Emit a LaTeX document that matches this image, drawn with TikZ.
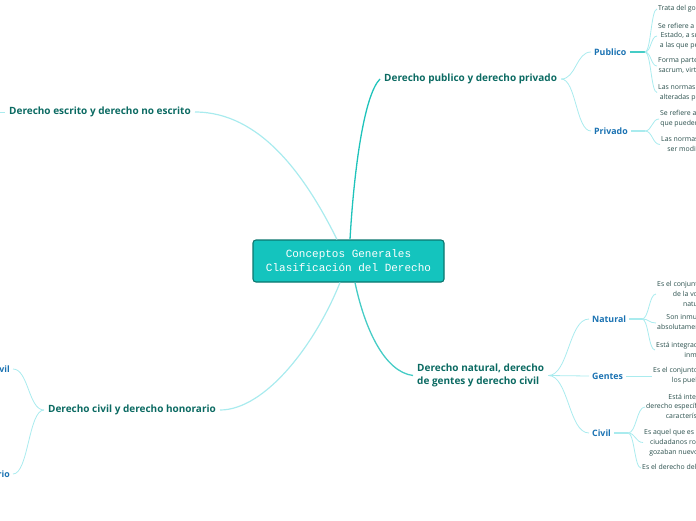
\documentclass[tikz,border=0pt]{standalone}
\usepackage{fontspec}
\setmainfont{Open Sans}
\setmonofont{Liberation Mono}
\usetikzlibrary{positioning,calc}
\definecolor{RootFill}{HTML}{14C4BE}
\definecolor{RootEdge}{HTML}{0C776F}
\definecolor{TopicText}{HTML}{0B6A62}
\definecolor{SubText}{HTML}{1A72B2}
\definecolor{LeafText}{HTML}{2B504D}
\definecolor{LinkDark}{HTML}{1FC3BB}
\definecolor{LinkMid}{HTML}{45CCC6}
\definecolor{LinkLight}{HTML}{A9EBEE}

\begin{document}
\begin{tikzpicture}[x=1pt,y=-1pt,
  root/.style={draw=RootEdge,fill=RootFill,rounded corners=3pt,line width=1.1pt,align=center,minimum width=191pt,minimum height=42pt,text=white,font=\ttfamily\fontsize{11}{14}\selectfont},
  topic/.style={text=TopicText,align=left,font=\bfseries\fontsize{10}{13}\selectfont,inner sep=4pt},
  sub/.style={text=SubText,font=\bfseries\fontsize{8.8}{10}\selectfont,inner sep=3pt},
  leaf/.style={text=LeafText,align=center,anchor=west,font=\fontsize{6.9}{9.8}\selectfont,inner sep=1pt},
  trunk/.style={line width=1.3pt,LinkDark},
  trunklight/.style={line width=1.2pt,LinkLight},
  twig/.style={line width=0.8pt,LinkLight},
  stub/.style={line width=2pt,LinkMid}]
  \useasboundingbox (0,0) rectangle (696,520);
  \clip (0,0) rectangle (696,520);

  % centre
  \node[root] (root) at (348.5,261) {Conceptos Generales\\Clasificación del Derecho};

  % main topics
  \node[topic,anchor=west] (pubpriv) at (380,79) {Derecho publico y derecho privado};
  \node[topic,anchor=east] (escrito) at (195,112) {Derecho escrito y derecho no escrito};
  \node[topic,anchor=east] (civhon) at (220,410) {Derecho civil y derecho honorario};
  \node[topic,anchor=west] (natural) at (413,375.5) {Derecho natural, derecho\\de gentes y derecho civil};

  \draw[trunk] ($(root.north)+(1.5,0)$) .. controls (354,170) and (364,95) .. (pubpriv.west);
  \draw[trunklight] ($(root.north)+(-11.5,0)$) .. controls (305,175) and (260,112) .. (escrito.east);
  \draw[trunklight] ($(root.south)+(-8.5,0)$) .. controls (315,345) and (265,410) .. (civhon.east);
  \draw[trunk,LinkMid] ($(root.south)+(6.5,0)$) .. controls (365,330) and (385,372) .. (natural.west);

  % escrito: branch leaving the page
  \coordinate (escout) at (-20,112);
  \draw[twig] (escrito.west) -- (escout);

  % publico / privado
  \node[sub,anchor=west] (pub) at (591,52) {Publico};
  \node[sub,anchor=west] (priv) at (591,131) {Privado};
  \coordinate (pubj) at (645,52);
  \coordinate (privj) at (645,131);
  \draw[stub] (pub.east) -- (pubj);
  \draw[stub,LinkLight] (priv.east) -- (privj);

  \node[leaf] (p1) at (657,9) {Trata del gobierno de la República};
  \node[leaf] (p2) at (657,36) {Se refiere a la organización del\\Estado, a sus magistraturas y\\a las que pertenece el pueblo};
  \node[leaf] (p3) at (657,66) {Forma parte de él el ius\\sacrum, virtud religiosa};
  \node[leaf] (p4) at (657,92.5) {Las normas no pueden ser\\alteradas por particulares};
  \node[leaf] (v1) at (659,119) {Se refiere a los particulares\\que pueden pactar entre sí};
  \node[leaf] (v2) at (660,144.5) {Las normas privadas pueden\\ser modificadas por ellos};

  % natural / gentes / civil
  \node[sub,anchor=west] (nat) at (589,319) {Natural};
  \node[sub,anchor=west] (gen) at (589,376) {Gentes};
  \node[sub,anchor=west] (civ) at (589,433) {Civil};
  \coordinate (natj) at (642,319);
  \coordinate (civj) at (628,433);
  \draw[stub,LinkLight] (nat.east) -- (natj);
  \draw[stub,LinkLight] (civ.east) -- (civj);

  \node[leaf] (n1) at (656,294) {Es el conjunto de normas derivadas\\de la voluntad de la razón\\naturaleza humana};
  \node[leaf] (n2) at (656,323) {Son inmutables y eternas\\absolutamente justas y buenas};
  \node[leaf] (n3) at (655,350) {Está integrado por principios\\inmutables};
  \node[leaf] (g1) at (652,376) {Es el conjunto de normas comunes a\\los pueblos sin distinción};
  \node[leaf] (c1) at (645,407) {Está integrado por el\\derecho específico de cada pueblo\\características propias};
  \node[leaf] (c2) at (643,442.5) {Es aquel que es propio de los\\ciudadanos romanos que\\gozaban nuevos derechos};
  \node[leaf] (c3) at (641,468) {Es el derecho del pueblo romano};

  \draw[twig] (gen.east) -- (g1.west);

  % left side of civil / honorario
  \node[sub,anchor=east] (ciu) at (13,369) {Derecho civil};
  \node[sub,anchor=east] (hon) at (13,474) {Derecho honorario};

  % brace-like connectors
  \foreach \a/\b in {pubpriv.east/pub.west,pubpriv.east/priv.west,pubj/p1.west,pubj/p2.west,pubj/p3.west,pubj/p4.west,privj/v1.west,privj/v2.west,natural.east/nat.west,natural.east/civ.west,natj/n1.west,natj/n2.west,natj/n3.west,civj/c1.west,civj/c2.west,civj/c3.west,civhon.west/ciu.east,civhon.west/hon.east}{
    \draw[twig] (\a) .. controls ($(\a)!0.5!(\a -| \b)$) and ($(\b)!0.5!(\b -| \a)$) .. (\b);
  }
  \draw[twig] (natural.east) -- (gen.west);
\end{tikzpicture}
\end{document}
